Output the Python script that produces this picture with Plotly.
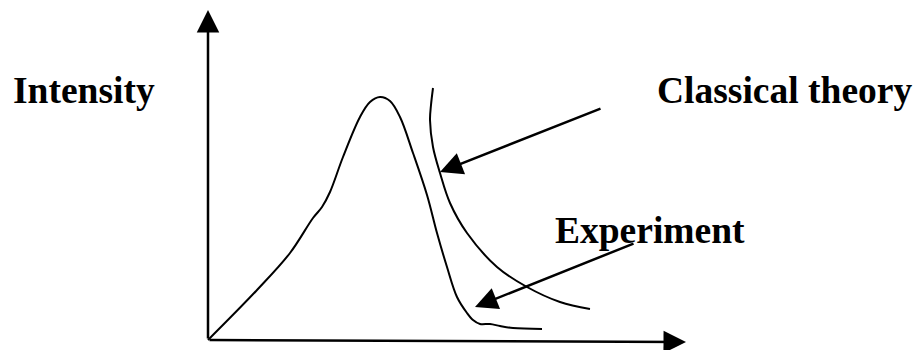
import plotly.graph_objects as go

# sketch of intensity vs wavelength (arbitrary units, origin at the axes corner)
exp_x = [0, 49, 82, 105, 114, 122, 135, 152, 162, 172, 182, 192, 205, 219, 229, 239, 249, 259, 265, 272, 282, 292, 305, 334]
exp_y = [0, 50, 87, 122, 133, 148, 183, 223, 238, 243, 239, 223, 187, 145, 107, 73, 43, 27, 20, 16, 16, 14, 12, 11]

classical_x = [225, 223, 222, 225, 232, 242, 259, 289, 319, 352, 382]
classical_y = [252, 235, 220, 193, 167, 137, 107, 73, 53, 38, 31]

labels = ["Intensity", "Classical theory", "Experiment"]

fig = go.Figure()
fig.add_trace(go.Scatter(x=exp_x, y=exp_y, mode="lines",
                         line=dict(color="black", width=2, shape="spline", smoothing=1)))
fig.add_trace(go.Scatter(x=classical_x, y=classical_y, mode="lines",
                         line=dict(color="black", width=2, shape="spline", smoothing=1)))

# axes and pointer arrows: (tail x, tail y, head x, head y)
arrows = [
    (0, 0, 0, 330),
    (0, 0, 478, -2),
    (394, 232, 232, 168),
    (427, 97, 267, 33),
]
for ax_, ay_, x_, y_ in arrows:
    fig.add_annotation(x=x_, y=y_, ax=ax_, ay=ay_, xref="x", yref="y", axref="x", ayref="y",
                       text="", showarrow=True, arrowhead=2, arrowwidth=2.5, arrowsize=1.8,
                       arrowcolor="black")

font = dict(family="Liberation Serif", size=37.5, color="black", weight="bold")
fig.add_annotation(x=-197, y=250, text=labels[0], showarrow=False, xanchor="left", yanchor="middle", font=font)
fig.add_annotation(x=447, y=250, text=labels[1], showarrow=False, xanchor="left", yanchor="middle", font=font)
fig.add_annotation(x=345, y=110, text=labels[2], showarrow=False, xanchor="left", yanchor="middle", font=font)

# the page puts the plot 8px in from the top-left corner, so the ranges are shifted to match
fig.update_layout(
    width=922, height=350,
    margin=dict(l=0, r=0, t=0, b=0),
    paper_bgcolor="white", plot_bgcolor="white",
    showlegend=False,
    xaxis=dict(range=[-200, 722], visible=False),
    yaxis=dict(range=[-18, 332], visible=False),
)

fig.write_html("out.html")
